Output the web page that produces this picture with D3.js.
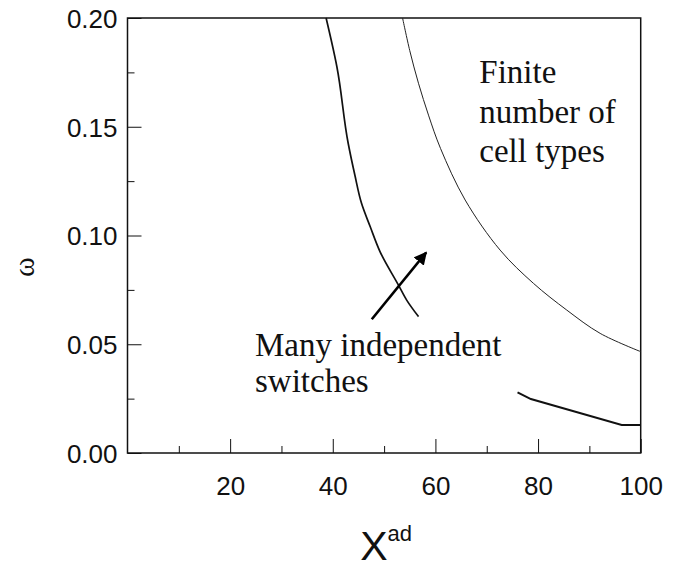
<!DOCTYPE html>
<html>
<head>
<meta charset="utf-8">
<script src="https://cdn.jsdelivr.net/npm/d3@7"></script>
<style>
  body { margin: 0; background: #fff; }
  .axis path, .axis line { stroke: #111; }
  .axis text { font-family: "Liberation Sans", Arial, sans-serif; font-size: 26px; fill: #111; }
  .note { font-family: "Liberation Serif", "Times New Roman", serif; font-size: 33px; fill: #111; }
</style>
</head>
<body>
<div class="chart"></div>
<script>
// boundary curves: x = X^ad, y = omega
let innerX = [38.7, 40.8, 43.0, 44.3, 45.6, 47.3, 49.2, 52.8, 54.4, 56.7];
let innerY = [0.200, 0.1776, 0.1424, 0.1278, 0.1148, 0.1040, 0.0926, 0.0772, 0.0703, 0.0627];

let outerX = [53.6, 55.0, 56.7, 58.7, 61.0, 65.8, 72.6, 79.1, 85.6, 92.1, 100];
let outerY = [0.200, 0.185, 0.170, 0.155, 0.140, 0.1163, 0.0933, 0.0780, 0.0657, 0.0550, 0.0466];

let lowX = [76.0, 78.6, 96.3, 100];
let lowY = [0.0279, 0.0248, 0.0129, 0.0129];

let xTicks = [20, 40, 60, 80, 100];
let xMinor = [10, 30, 50, 70, 90];
let yTicks = [0, 0.05, 0.10, 0.15, 0.20];
let yMinor = [0.025, 0.075, 0.125, 0.175];

// arrow from the "many switches" label, in data units
let arrowFrom = [47.6, 0.0615];
let arrowTo = [58.2, 0.0922];

let margin = { top: 18, right: 43.3, bottom: 116, left: 127.5 },
  width = 684 - margin.left - margin.right,
  height = 569 - margin.top - margin.bottom;

let root = d3.select(".chart")
  .append("svg")
  .attr("width", 684)
  .attr("height", 569);

let svg = root.append("g")
  .attr("transform", "translate(" + margin.left + "," + margin.top + ")");

let x = d3.scaleLinear().domain([0, 100]).range([0, width]);
let y = d3.scaleLinear().domain([0, 0.2]).range([height, 0]);

// minor ticks first, then major with labels
svg.append("g").attr("class", "axis")
  .attr("transform", "translate(0," + height + ")")
  .call(d3.axisTop(x).tickValues(xMinor).tickSize(7).tickFormat(""))
  .select(".domain").remove();

let xAxisGroup = svg.append("g").attr("class", "axis x-axis")
  .attr("transform", "translate(0," + height + ")")
  .call(d3.axisTop(x).tickValues(xTicks).tickSize(14).tickSizeOuter(0).tickFormat(d3.format("d")));
xAxisGroup.select(".domain").remove();
xAxisGroup.selectAll("text").attr("y", 42).attr("dy", 0);

svg.append("g").attr("class", "axis")
  .call(d3.axisRight(y).tickValues(yMinor).tickSize(7).tickFormat(""))
  .select(".domain").remove();

let yAxisGroup = svg.append("g").attr("class", "axis y-axis")
  .call(d3.axisRight(y).tickValues(yTicks).tickSize(14).tickFormat(d3.format(".2f")));
yAxisGroup.select(".domain").remove();
yAxisGroup.selectAll("text").attr("x", -10).attr("text-anchor", "end").attr("dy", "0.36em");

// frame
svg.append("rect")
  .attr("width", width)
  .attr("height", height)
  .attr("fill", "none")
  .attr("stroke", "#111")
  .attr("stroke-width", 1.5);

let line = d3.line()
  .x(function(d) { return x(d[0]); })
  .y(function(d) { return y(d[1]); })
  .curve(d3.curveMonotoneY);

svg.append("path")
  .datum(d3.zip(innerX, innerY))
  .attr("d", line)
  .attr("fill", "none").attr("stroke", "#111").attr("stroke-width", 1.7);

svg.append("path")
  .datum(d3.zip(outerX, outerY))
  .attr("d", line.curve(d3.curveCatmullRom))
  .attr("fill", "none").attr("stroke", "#222").attr("stroke-width", 1);

svg.append("path")
  .datum(d3.zip(lowX, lowY))
  .attr("d", line.curve(d3.curveLinear))
  .attr("fill", "none").attr("stroke", "#111").attr("stroke-width", 2);

// arrow
root.append("defs").append("marker")
  .attr("id", "head")
  .attr("viewBox", "0 0 10 10")
  .attr("refX", 9).attr("refY", 5)
  .attr("markerWidth", 5).attr("markerHeight", 5)
  .attr("markerUnits", "strokeWidth")
  .attr("orient", "auto")
  .append("path")
  .attr("d", "M0,0L10,5L0,10Z")
  .attr("fill", "#000");

svg.append("line")
  .attr("x1", x(arrowFrom[0])).attr("y1", y(arrowFrom[1]))
  .attr("x2", x(arrowTo[0])).attr("y2", y(arrowTo[1]))
  .attr("stroke", "#000").attr("stroke-width", 2.6)
  .attr("marker-end", "url(#head)");

// labels inside the plot
let finite = svg.append("text").attr("class", "note");
["Finite", "number of", "cell types"].forEach(function(s, i) {
  finite.append("tspan").attr("x", 351.8).attr("y", 65.3 + i * 39.2).text(s);
});

let many = svg.append("text").attr("class", "note");
["Many independent", "switches"].forEach(function(s, i) {
  many.append("tspan").attr("x", 127.5).attr("y", 338 + i * 35.7).text(s);
});

// axis titles
let xTitle = root.append("text")
  .attr("x", margin.left + width / 2 + 2)
  .attr("y", 560)
  .attr("text-anchor", "middle")
  .style("font-family", "Liberation Sans, Arial, sans-serif")
  .style("fill", "#111");
xTitle.append("tspan").style("font-size", "41px").text("X");
xTitle.append("tspan").style("font-size", "22px").attr("dy", -19).text("ad");

root.append("text")
  .attr("transform", "translate(34,267) rotate(-90)")
  .attr("text-anchor", "middle")
  .style("font-family", "Liberation Serif, Times New Roman, serif")
  .style("font-size", "30px")
  .style("fill", "#111")
  .text("ω");
</script>
</body>
</html>
